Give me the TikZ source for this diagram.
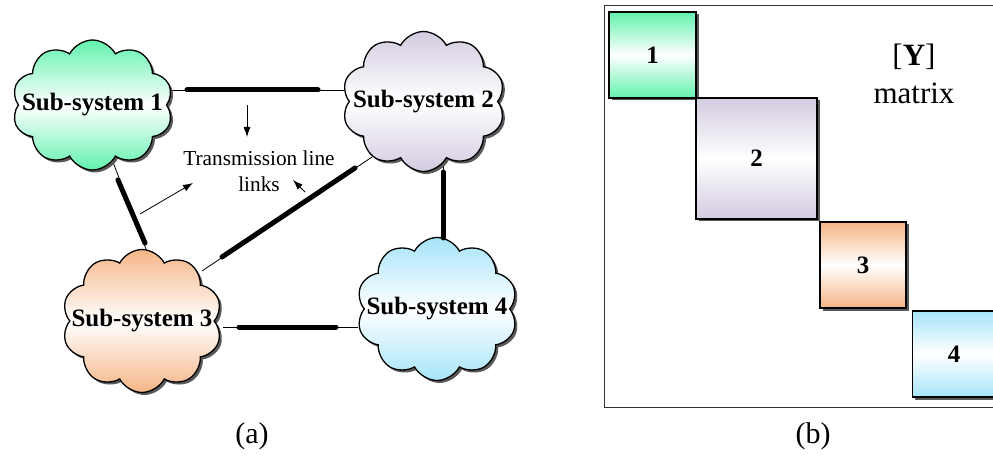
\documentclass[tikz,border=0pt]{standalone}
\usepackage{fontspec}
\setmainfont{Liberation Serif}
\usetikzlibrary{shapes.symbols,shadows,arrows.meta}
\definecolor{cgreen}{HTML}{62F2AE}
\definecolor{cpurple}{HTML}{D3CBE0}
\definecolor{corange}{HTML}{F5B586}
\definecolor{cblue}{HTML}{A6E4FA}
\tikzset{
  subsys/.style={cloud, cloud puffs=10, cloud puff arc=125, cloud ignores aspect,
    draw=black, line width=1.3pt, inner xsep=-25pt, inner ysep=0pt,
    minimum width=161pt, minimum height=130pt,
    top color=#1, bottom color=#1, middle color=white,
    drop shadow={shadow xshift=2.5pt, shadow yshift=-2.5pt, fill=black!65, opacity=1},
    font=\fontsize{25}{28}\selectfont\bfseries},
  blockbox/.style={draw=black, line width=1.3pt, inner sep=0pt,
    top color=#1, bottom color=#1, middle color=white,
    drop shadow={shadow xshift=2.5pt, shadow yshift=-2.5pt, fill=black!65, opacity=1},
    font=\fontsize{25}{28}\selectfont\bfseries},
  thinlink/.style={line width=0.8pt},
  thicklink/.style={line width=5pt, line cap=round},
  pointer/.style={line width=0.8pt, -{Latex[length=10pt,width=7pt]}},
  caption/.style={font=\fontsize{30}{32}\selectfont},
}
\begin{document}
\begin{tikzpicture}[x=1pt,y=-1pt]
\useasboundingbox (0,0) rectangle (993,462);
\clip (0,0) rectangle (993,462);

% ---- (a) clouds ----
\coordinate (a12) at (168,90);   \coordinate (b12) at (344,90);
\coordinate (t12a) at (187,90);  \coordinate (t12b) at (318,90);
\coordinate (a13) at (113,162);  \coordinate (b13) at (152,265);
\coordinate (t13a) at (118,180); \coordinate (t13b) at (145,243);
\coordinate (a23) at (372,157);  \coordinate (b23) at (202,271);
\coordinate (t23a) at (355,168); \coordinate (t23b) at (222,257);
\coordinate (a24) at (443,160);  \coordinate (b24) at (443,256);
\coordinate (t24a) at (443,172); \coordinate (t24b) at (443,238);
\coordinate (a34) at (223,327);  \coordinate (b34) at (358,327);
\coordinate (t34a) at (239,327); \coordinate (t34b) at (336,327);

\draw[thinlink] (a12) -- (b12);
\draw[thinlink] (a13) -- (b13);
\draw[thinlink] (a23) -- (b23);
\draw[thinlink] (a24) -- (b24);
\draw[thinlink] (a34) -- (b34);

\node[subsys=cgreen]  (c1) at (92.5,105) {Sub-system 1};
\node[subsys=cpurple, minimum width=163pt, minimum height=140pt] (c2) at (423.5,101.5) {Sub-system 2};
\node[subsys=corange, minimum width=160pt, minimum height=143pt] (c3) at (142,321) {Sub-system 3};
\node[subsys=cblue, minimum width=161pt, minimum height=143pt] (c4) at (437,309) {Sub-system 4};

\draw[thicklink] (t12a) -- (t12b);
\draw[thicklink] (t13a) -- (t13b);
\draw[thicklink] (t23a) -- (t23b);
\draw[thicklink] (t24a) -- (t24b);
\draw[thicklink] (t34a) -- (t34b);

\node[align=center, font=\fontsize{21.3}{26}\selectfont] (tl) at (259,171)
  {Transmission line\\links};
\coordinate (p1s) at (247,105); \coordinate (p1e) at (247,137);
\coordinate (p2s) at (140,214); \coordinate (p2e) at (193,183);
\coordinate (p3s) at (305,192); \coordinate (p3e) at (293,180);
\draw[pointer] (p1s) -- (p1e);
\draw[pointer] (p2s) -- (p2e);
\draw[pointer] (p3s) -- (p3e);

\node[caption] (capa) at (252,436) {(a)};

% ---- (b) matrix ----
\draw[line width=1pt, draw=black!80] (604,6) rectangle (1010,407);
\node[blockbox=cgreen, minimum width=87pt, minimum height=86pt] (m1) at (652.5,55) {1};
\node[blockbox=cpurple, minimum width=121pt, minimum height=121pt] (m2) at (756.5,158.5) {2};
\node[blockbox=corange, minimum width=86pt, minimum height=86pt] (m3) at (863,265) {3};
\node[blockbox=cblue, minimum width=90pt, minimum height=86pt, anchor=west] (m4) at (912,354) {};
\node[font=\fontsize{25}{28}\selectfont\bfseries] (m4l) at (954,354) {4};
\node[font=\fontsize{31}{33}\selectfont] (ylab) at (914,57) {[\textbf{Y}]};
\node[font=\fontsize{31}{33}\selectfont] (mlab) at (914,93) {matrix};

\node[caption] (capb) at (813,436) {(b)};
\end{tikzpicture}
\end{document}
